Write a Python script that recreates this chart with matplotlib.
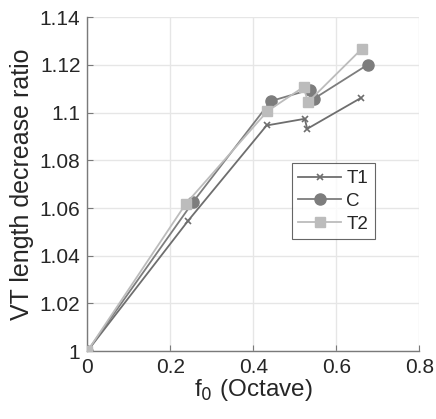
import matplotlib
matplotlib.use('Agg')
import matplotlib.pyplot as plt

# data
t1_x = [0, 0.243, 0.432, 0.524, 0.530, 0.660]
t1_y = [1.0, 1.0547, 1.0946, 1.0974, 1.0932, 1.1062]
c_x = [0, 0.255, 0.442, 0.536, 0.546, 0.676]
c_y = [1.0, 1.0626, 1.1048, 1.1096, 1.1058, 1.1201]
t2_x = [0, 0.237, 0.434, 0.521, 0.532, 0.662]
t2_y = [1.0, 1.0617, 1.1006, 1.1107, 1.1044, 1.1268]

x_ticks = [0, 0.2, 0.4, 0.6, 0.8]
x_labels = ['0', '0.2', '0.4', '0.6', '0.8']
y_ticks = [1.0, 1.02, 1.04, 1.06, 1.08, 1.10, 1.12, 1.14]
y_labels = ['1', '1.02', '1.04', '1.06', '1.08', '1.1', '1.12', '1.14']

plt.rcParams['font.family'] = ['Liberation Sans', 'DejaVu Sans']

fig = plt.figure(figsize=(4.36, 4.19), dpi=100)
ax = fig.add_axes([0.2005, 0.162, 0.761, 0.797])

ax.plot(t1_x, t1_y, color='#6e6e6e', marker='x', markersize=5, mew=1.2,
        linewidth=1.3, label='T1', zorder=3)
ax.plot(c_x, c_y, color='#7d7d7d', marker='o', markersize=8,
        linewidth=1.3, label='C', zorder=3)
ax.plot(t2_x, t2_y, color='#bcbcbc', marker='s', markersize=7,
        linewidth=1.3, label='T2', zorder=3)

ax.set_xlim(0, 0.8)
ax.set_ylim(1.0, 1.14)
ax.set_xticks(x_ticks)
ax.set_xticklabels(x_labels)
ax.set_yticks(y_ticks)
ax.set_yticklabels(y_labels)

ax.grid(True, color='#e6e6e6', linewidth=1.0, zorder=0)
ax.set_axisbelow(True)
for s in ['top', 'right']:
    ax.spines[s].set_visible(False)
for s in ['left', 'bottom']:
    ax.spines[s].set_color('#7a7a7a')
    ax.spines[s].set_linewidth(1.0)
ax.tick_params(direction='in', length=4, colors='#7a7a7a', labelsize=15,
               labelcolor='#262626', pad=5)

ax.set_xlabel('f$_0$ (Octave)', fontsize=17.5, color='#262626', labelpad=0)
ax.set_ylabel('VT length decrease ratio', fontsize=18, color='#262626', labelpad=4)

leg = ax.legend(loc='upper left', bbox_to_anchor=(0.616, 0.562), fontsize=13.5,
                frameon=True, fancybox=False, handlelength=2.3,
                borderpad=0.35, labelspacing=0.3, handletextpad=0.25,
                borderaxespad=0)
leg.get_frame().set_edgecolor('#404040')
leg.get_frame().set_linewidth(0.8)
for t in leg.get_texts():
    t.set_color('#262626')

fig.savefig('out.png', dpi=100)
